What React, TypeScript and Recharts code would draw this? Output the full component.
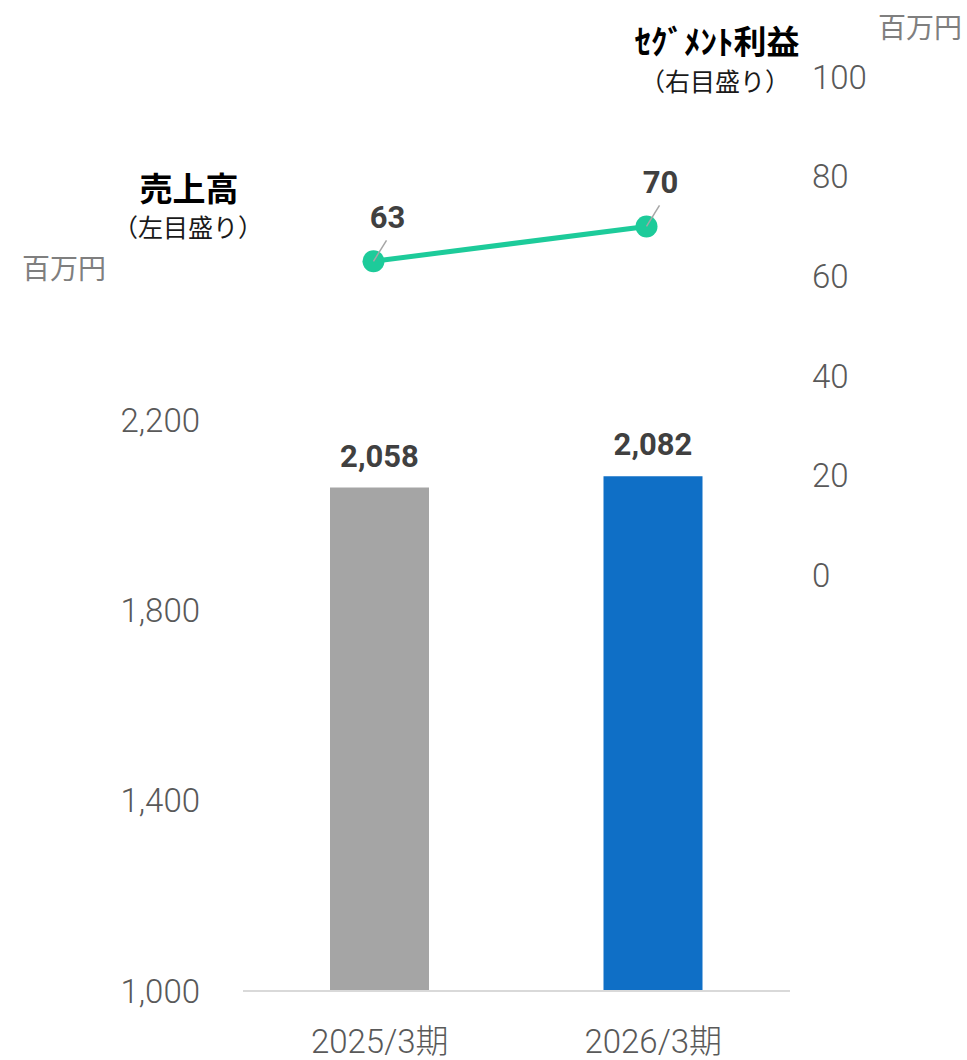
import {
  ComposedChart,
  Bar,
  Line,
  XAxis,
  YAxis,
  Cell,
  LabelList,
} from 'recharts'

const categories = ['2025/3期', '2026/3期']
const salesValues = [2058, 2082]
const profitValues = [63, 70]
const barColors = ['#A5A5A5', '#0F6FC6']
const leftTicks = [1000, 1400, 1800, 2200]
const rightTicks = [0, 20, 40, 60, 80, 100]

const data = categories.map((name, i) => ({
  name,
  sales: salesValues[i],
  profit: profitValues[i],
}))

const NUM_FONT = 'Roboto, "Noto Sans CJK JP", sans-serif'
const CJK_FONT = '"Noto Sans CJK JP", sans-serif'
const LINE_COLOR = '#1DCB9A'

function renderLineLabel(props: any) {
  const { x, y, value } = props
  if (x == null || y == null) return null
  return (
    <g>
      <line x1={x} y1={y} x2={x + 13} y2={y - 21} stroke="#A6A6A6" strokeWidth={1.5} />
      <text
        x={x + 14}
        y={y - 33}
        textAnchor="middle"
        fontFamily={NUM_FONT}
        fontWeight={700}
        fontSize={31}
        fill="#404040"
      >
        {value}
      </text>
    </g>
  )
}

export default function App() {
  return (
    <div style={{ position: 'absolute', left: 0, top: 0, width: 967, height: 1060, background: '#fff' }}>
      <ComposedChart
        width={967}
        height={1060}
        data={data}
        margin={{ top: 77, right: 77, bottom: 9, left: 0 }}
      >
        <XAxis
          xAxisId="bar"
          dataKey="name"
          height={60}
          interval={0}
          axisLine={{ stroke: '#D9D9D9', strokeWidth: 2 }}
          tickLine={false}
          tickMargin={33}
          tick={{ fontSize: 33, fill: '#595959', fontFamily: NUM_FONT, fontWeight: 300 }}
        />
        <XAxis xAxisId="line" dataKey="name" hide padding={{ left: -6, right: 7 }} />
        <YAxis
          yAxisId="left"
          orientation="left"
          width={243}
          domain={[1000, 2921]}
          ticks={leftTicks}
          allowDataOverflow
          axisLine={false}
          tickLine={false}
          tickMargin={37}
          tickFormatter={(v: number) => v.toLocaleString('en-US')}
          tick={{ fontSize: 33, fill: '#595959', fontFamily: NUM_FONT, fontWeight: 300 }}
        />
        <YAxis
          yAxisId="right"
          orientation="right"
          width={100}
          domain={[-83.5, 100]}
          ticks={rightTicks}
          allowDataOverflow
          axisLine={false}
          tickLine={false}
          tickMargin={16}
          tick={{ fontSize: 33, fill: '#595959', fontFamily: NUM_FONT, fontWeight: 300, textAnchor: 'start' }}
        />
        <Bar xAxisId="bar" yAxisId="left" dataKey="sales" barSize={99} isAnimationActive={false}>
          {data.map((d, i) => (
            <Cell key={d.name} fill={barColors[i]} />
          ))}
          <LabelList
            dataKey="sales"
            position="top"
            offset={21}
            formatter={(v: any) => Number(v).toLocaleString('en-US')}
            style={{ fontSize: 31, fontWeight: 700, fill: '#404040', fontFamily: NUM_FONT }}
          />
        </Bar>
        <Line
          xAxisId="line"
          yAxisId="right"
          type="linear"
          dataKey="profit"
          stroke={LINE_COLOR}
          strokeWidth={5}
          dot={{ r: 11, fill: LINE_COLOR, stroke: 'none' }}
          activeDot={false}
          label={renderLineLabel}
          isAnimationActive={false}
        />
      </ComposedChart>
      <svg
        width={967}
        height={1060}
        style={{ position: 'absolute', left: 0, top: 0, pointerEvents: 'none' }}
      >
        <g fontFamily={CJK_FONT} textAnchor="middle" dominantBaseline="central">
          <text x={189} y={187} fontSize={33} fontWeight={700} fill="#000">売上高</text>
          <text x={188} y={226} fontSize={25} fill="#1A1A1A">（左目盛り）</text>
          <text x={64} y={267} fontSize={28} fill="#7F7F7F">百万円</text>
          <text x={717} y={40} fontSize={33} fontWeight={700} fill="#000">ｾｸﾞﾒﾝﾄ利益</text>
          <text x={715} y={80} fontSize={25} fill="#1A1A1A">（右目盛り）</text>
          <text x={920} y={26} fontSize={28} fill="#7F7F7F">百万円</text>
        </g>
      </svg>
    </div>
  )
}
